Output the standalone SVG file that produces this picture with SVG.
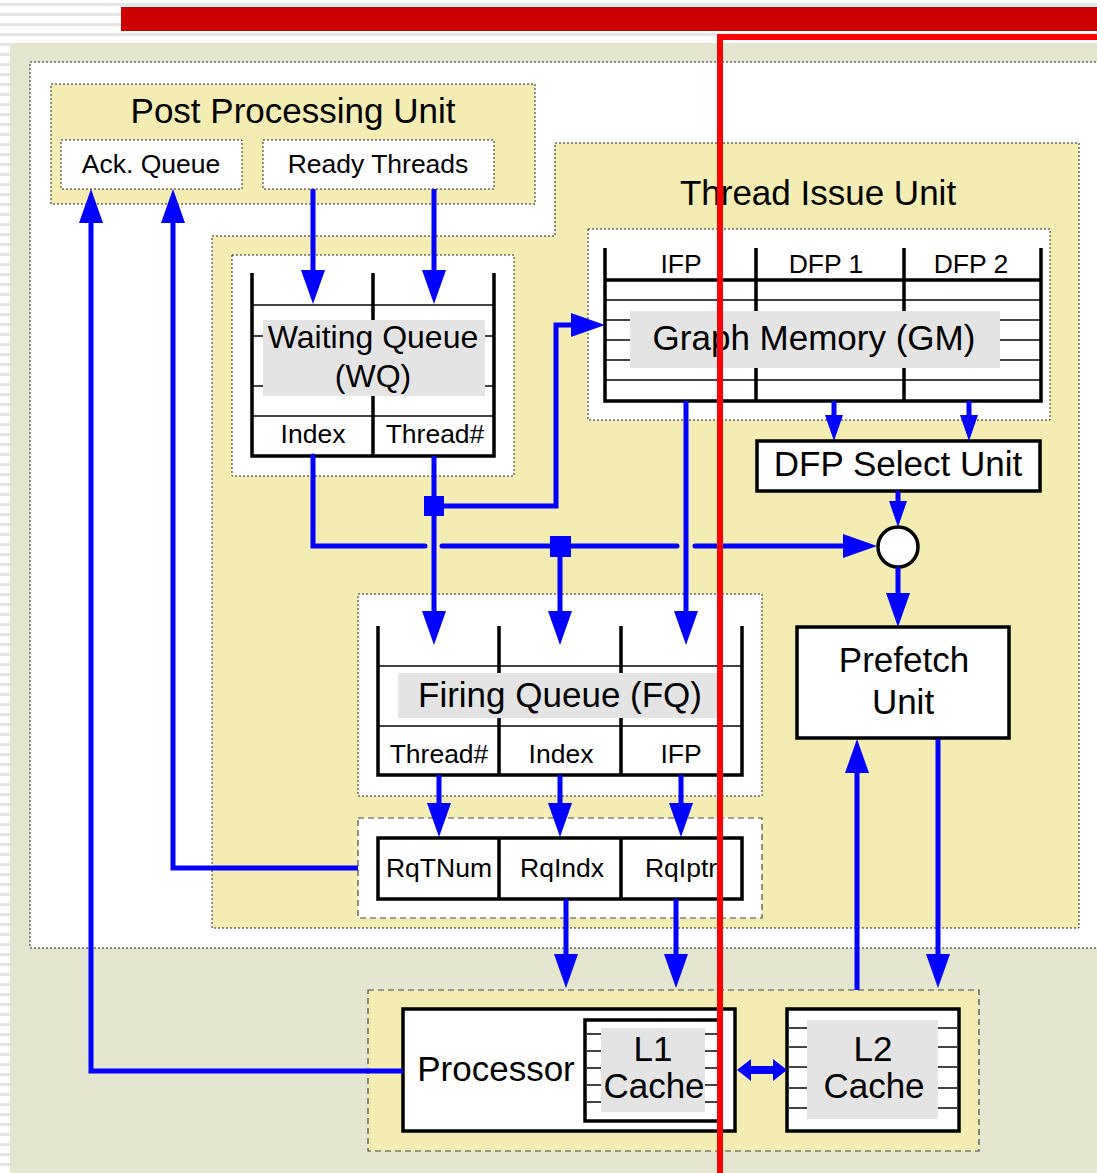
<svg xmlns="http://www.w3.org/2000/svg" width="1097" height="1173" viewBox="0 0 1097 1173">
<defs>
<pattern id="stripes" patternUnits="userSpaceOnUse" width="10" height="10">
<rect width="10" height="10" fill="#FFFFFF"/>
<rect y="3" width="10" height="3" fill="#E4E4E4"/>
</pattern>
<marker id="ah" markerUnits="userSpaceOnUse" markerWidth="34" markerHeight="24" refX="24" refY="12" orient="auto">
<path d="M0,0 L34,12 L0,24 z" fill="#0000FF"/>
</marker>
<marker id="ahs" markerUnits="userSpaceOnUse" markerWidth="26" markerHeight="18" refX="18" refY="9" orient="auto">
<path d="M0,0 L26,9 L0,18 z" fill="#0000FF"/>
</marker>
</defs>
<style>
text { font-family: "Liberation Sans", Arial, sans-serif; fill: #000; text-anchor: middle; }
.big { font-size: 35px; }
.mid { font-size: 32px; }
.sm { font-size: 26.5px; }
.dot { stroke: #222; stroke-width: 1; stroke-dasharray: 2 2; }
.dash { stroke: #444; stroke-width: 1.2; stroke-dasharray: 6 4; }
.yel { fill: #F3EDB3; }
.wht { fill: #FFFFFF; }
.lbl { fill: #E4E4E4; }
.thick { fill: none; stroke: #000; stroke-width: 3.5; }
.thin { stroke: #444; stroke-width: 2; }
.blue { fill: none; stroke: #0000FF; stroke-width: 5; }
.gap { fill: none; stroke: #0000FF; stroke-width: 5; stroke-linecap: round; }
</style>

<!-- background -->
<rect x="0" y="0" width="1097" height="1173" fill="url(#stripes)"/>
<rect x="10" y="43" width="1087" height="1130" fill="#E4E6D0"/>
<rect x="121" y="7" width="976" height="24" fill="#CC0000"/>
<rect x="30" y="62" width="1080" height="886" class="wht dot"/>

<g id="post-processing-unit">
<rect x="51" y="84" width="484" height="120" class="yel dot"/>
<text x="293" y="123" class="big">Post Processing Unit</text>
</g>
<g id="ack-queue">
<rect x="61" y="140" width="181" height="49" class="wht dot"/>
<text x="151" y="173" class="sm">Ack. Queue</text>
</g>
<g id="ready-threads">
<rect x="263" y="140" width="231" height="49" class="wht dot"/>
<text x="378" y="173" class="sm">Ready Threads</text>
</g>

<g id="thread-issue-unit">
<path d="M555,143 H1079 V928 H212 V236 H555 Z" class="yel dot"/>
<text x="818" y="205" class="big">Thread Issue Unit</text>
</g>

<g id="graph-memory">
<rect x="588" y="229" width="462" height="191" class="wht dot"/>
<line x1="605" y1="300" x2="1041" y2="300" class="thin"/>
<line x1="605" y1="320" x2="1041" y2="320" class="thin"/>
<line x1="605" y1="340" x2="1041" y2="340" class="thin"/>
<line x1="605" y1="360" x2="1041" y2="360" class="thin"/>
<line x1="605" y1="380" x2="1041" y2="380" class="thin"/>
<path d="M605,248 V401 H1041 V248 M756,248 V401 M904,248 V401 M605,280 H1041" class="thick"/>
<rect x="630" y="311" width="370" height="57" class="lbl"/>
<text x="681" y="273" class="sm">IFP</text>
<text x="826" y="273" class="sm">DFP 1</text>
<text x="971" y="273" class="sm">DFP 2</text>
<text x="814" y="350" class="big">Graph Memory (GM)</text>
</g>

<g id="waiting-queue">
<rect x="232" y="255" width="282" height="221" class="wht dot"/>
<line x1="252" y1="305" x2="494" y2="305" class="thin" stroke="#111"/>
<line x1="252" y1="336" x2="494" y2="336" class="thin"/>
<line x1="252" y1="386" x2="494" y2="386" class="thin"/>
<line x1="252" y1="416" x2="494" y2="416" class="thin" stroke="#111"/>
<path d="M252,273 V456 H494 V273 M373,273 V456" class="thick"/>
<rect x="263" y="320" width="222" height="76" class="lbl"/>
<text x="373" y="348" class="mid">Waiting Queue</text>
<text x="373" y="387" class="mid">(WQ)</text>
<text x="313" y="443" class="sm">Index</text>
<text x="435" y="443" class="sm">Thread#</text>
</g>

<g id="dfp-select-unit">
<rect x="757" y="441" width="283" height="50" fill="#FFFFFF" stroke="#000" stroke-width="3.5"/>
<text x="898" y="476" class="big">DFP Select Unit</text>
</g>

<g id="merge-point">
<circle cx="898" cy="547" r="20" fill="#FFFFFF" stroke="#000" stroke-width="3.5"/>
</g>

<g id="prefetch-unit">
<rect x="797" y="627" width="212" height="111" fill="#FFFFFF" stroke="#000" stroke-width="3.5"/>
<text x="904" y="672" class="big">Prefetch</text>
<text x="903" y="714" class="big">Unit</text>
</g>

<g id="firing-queue">
<rect x="358" y="594" width="404" height="202" class="wht dot"/>
<line x1="378" y1="666" x2="742" y2="666" class="thin" stroke="#111"/>
<line x1="378" y1="726" x2="742" y2="726" class="thin" stroke="#111"/>
<path d="M378,626 V775 H742 V626 M499,626 V775 M621,626 V775" class="thick"/>
<rect x="398" y="673" width="319" height="45" class="lbl"/>
<text x="560" y="707" class="big">Firing Queue (FQ)</text>
<text x="439" y="763" class="sm">Thread#</text>
<text x="561" y="763" class="sm">Index</text>
<text x="681" y="763" class="sm">IFP</text>
</g>

<g id="request-registers">
<rect x="358" y="818" width="404" height="100" class="wht dash"/>
<path d="M378,838 H742 V899 H378 Z M499,838 V899 M621,838 V899" class="thick"/>
<text x="439" y="877" class="sm">RqTNum</text>
<text x="562" y="877" class="sm">RqIndx</text>
<text x="681" y="877" class="sm">RqIptr</text>
</g>

<g id="memory-subsystem">
<rect x="368" y="990" width="611" height="161" class="yel dash"/>
</g>

<g id="processor">
<rect x="403" y="1009" width="332" height="122" fill="#FFFFFF" stroke="#000" stroke-width="3.5"/>
<text x="496" y="1081" class="big">Processor</text>
</g>

<g id="l1-cache">
<rect x="585" y="1020" width="135" height="101" fill="#FFFFFF" stroke="#000" stroke-width="3.5"/>
<line x1="587" y1="1034" x2="718" y2="1034" class="thin"/>
<line x1="587" y1="1051" x2="718" y2="1051" class="thin"/>
<line x1="587" y1="1068" x2="718" y2="1068" class="thin"/>
<line x1="587" y1="1085" x2="718" y2="1085" class="thin"/>
<line x1="587" y1="1102" x2="718" y2="1102" class="thin"/>
<rect x="601" y="1028" width="104" height="84" class="lbl"/>
<text x="653" y="1061" class="big">L1</text>
<text x="654" y="1098" class="big">Cache</text>
</g>

<g id="l2-cache">
<rect x="787" y="1009" width="172" height="122" fill="#FFFFFF" stroke="#000" stroke-width="3.5"/>
<line x1="789" y1="1028" x2="957" y2="1028" class="thin"/>
<line x1="789" y1="1047" x2="957" y2="1047" class="thin"/>
<line x1="789" y1="1067" x2="957" y2="1067" class="thin"/>
<line x1="789" y1="1088" x2="957" y2="1088" class="thin"/>
<line x1="789" y1="1108" x2="957" y2="1108" class="thin"/>
<rect x="807" y="1020" width="131" height="99" class="lbl"/>
<text x="873" y="1061" class="big">L2</text>
<text x="874" y="1098" class="big">Cache</text>
</g>

<g id="connectors">
<path d="M313,189 V294" class="blue" marker-end="url(#ah)"/>
<path d="M434,189 V294" class="blue" marker-end="url(#ah)"/>
<path d="M313,456 V546 H425" class="gap"/>
<path d="M442,546 H677" class="gap"/>
<path d="M695,546 H867" class="gap" marker-end="url(#ah)"/>
<path d="M434,456 V635" class="blue" marker-end="url(#ah)"/>
<path d="M434,506 H556 V325 H595" class="blue" marker-end="url(#ah)"/>
<path d="M560,546 V635" class="blue" marker-end="url(#ah)"/>
<path d="M686,401 V635" class="blue" marker-end="url(#ah)"/>
<rect x="424" y="496" width="20" height="20" fill="#0000FF"/>
<rect x="550" y="536" width="21" height="21" fill="#0000FF"/>
<path d="M834,401 V433" class="blue" marker-end="url(#ahs)"/>
<path d="M969,401 V433" class="blue" marker-end="url(#ahs)"/>
<path d="M898,491 V519" class="blue" marker-end="url(#ahs)"/>
<path d="M898,567 V617" class="blue" marker-end="url(#ah)"/>
<path d="M439,775 V827" class="blue" marker-end="url(#ah)"/>
<path d="M560,775 V827" class="blue" marker-end="url(#ah)"/>
<path d="M681,775 V827" class="blue" marker-end="url(#ah)"/>
<path d="M566,899 V978" class="blue" marker-end="url(#ah)"/>
<path d="M676,899 V978" class="blue" marker-end="url(#ah)"/>
<path d="M358,868 H173 V199" class="blue" marker-end="url(#ah)"/>
<path d="M403,1071 H91 V199" class="blue" marker-end="url(#ah)"/>
<path d="M857,990 V749" class="blue" marker-end="url(#ah)"/>
<path d="M938,739 V978" class="blue" marker-end="url(#ah)"/>
<polygon points="737,1070 751,1059 751,1066 773,1066 773,1059 787,1070 773,1081 773,1074 751,1074 751,1081" fill="#0000FF"/>
</g>

<path d="M720,1173 V37 H1097" fill="none" stroke="#FF0000" stroke-width="6"/>
</svg>
